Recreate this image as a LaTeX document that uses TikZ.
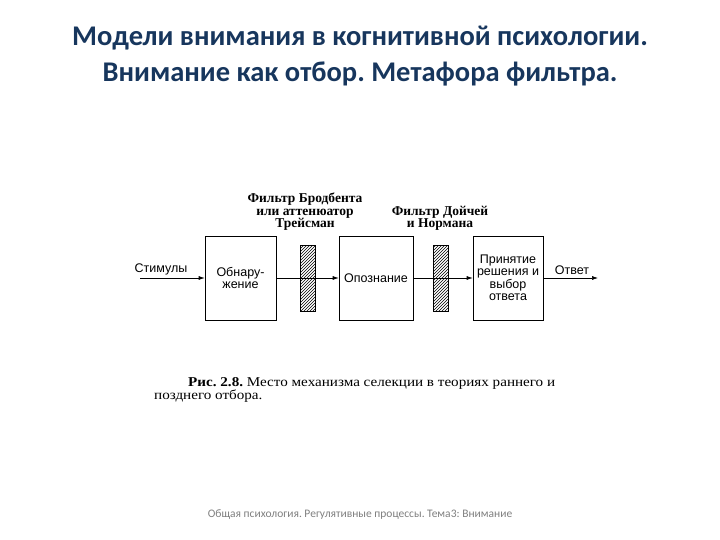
\documentclass[tikz,border=0pt]{standalone}
\usepackage{fontspec}
\setmainfont{Liberation Serif}
\setsansfont{Liberation Sans}
\newfontfamily\titlefont{Carlito}
\newfontfamily\captionfont[FakeStretch=1.12]{Liberation Serif}
\usetikzlibrary{positioning,arrows.meta,patterns}
\definecolor{titleblue}{HTML}{17365D}
\definecolor{footgray}{HTML}{7F7F7F}
\frenchspacing
\tikzset{
    every node/.style={font=\sffamily\fontsize{12.5}{12.5}\selectfont},
    stage/.style={rectangle,draw,semithick,minimum width=71pt,minimum height=84pt,inner sep=0pt,align=center},
    filterbar/.style={rectangle,draw,semithick,pattern=north east lines,minimum width=15pt,minimum height=66pt,inner sep=0pt},
    filterlabel/.style={font=\rmfamily\bfseries\fontsize{13.5}{12.5}\selectfont,align=center},
    flow/.style={draw,semithick,-{Latex[length=6pt,width=4pt]}}
}
\begin{document}
\begin{tikzpicture}[x=1pt,y=-1pt]
\useasboundingbox (0,0) rectangle (720,540);
% title
\node[font=\titlefont\bfseries\fontsize{28.5}{36}\selectfont,text=titleblue,align=center] (title) at (360,56)
    {Модели внимания в когнитивной психологии.\\Внимание как отбор. Метафора фильтра.};
% stages
\node[stage] (detect) at (240.5,278) {Обнару-\\жение};
\node[stage,minimum width=74pt] (recog) at (376,278) {Опознание};
\node[stage,minimum width=70pt] (choice) at (508,278) {Принятие\\решения и\\выбор\\ответа};
\coordinate (start) at (140,278);
\coordinate (finish) at (598,278);
% connectors
\draw[flow] (start) -- (detect);
\draw[flow] (detect) -- (recog);
\draw[flow] (recog) -- (choice);
\draw[flow] (choice) -- (finish);
\node[anchor=south] (stimlabel) at (161,278.5) {Стимулы};
\node[anchor=south] (outlabel) at (572,278.5) {Ответ};
% filters
\node[filterbar] (early) at (307.5,278) {};
\node[filterbar] (late) at (440.5,278) {};
\node[filterlabel,anchor=south] (earlylabel) at (305,234) {Фильтр Бродбента\\или аттенюатор\\Трейсман};
\node[filterlabel,anchor=south] (latelabel) at (440,234) {Фильтр Дойчей\\и Нормана};
% caption
\node[font=\captionfont\fontsize{13.5}{13}\selectfont,align=left,anchor=north west,inner sep=0pt] (caption) at (154,377)
    {\hspace*{34pt}\textbf{Рис. 2.8.} Место механизма селекции в теориях раннего и\\позднего отбора.};
% footer
\node[font=\titlefont\fontsize{11.5}{12}\selectfont,text=footgray] (footer) at (360,515)
    {Общая психология. Регулятивные процессы. Тема3: Внимание};
\end{tikzpicture}
\end{document}
